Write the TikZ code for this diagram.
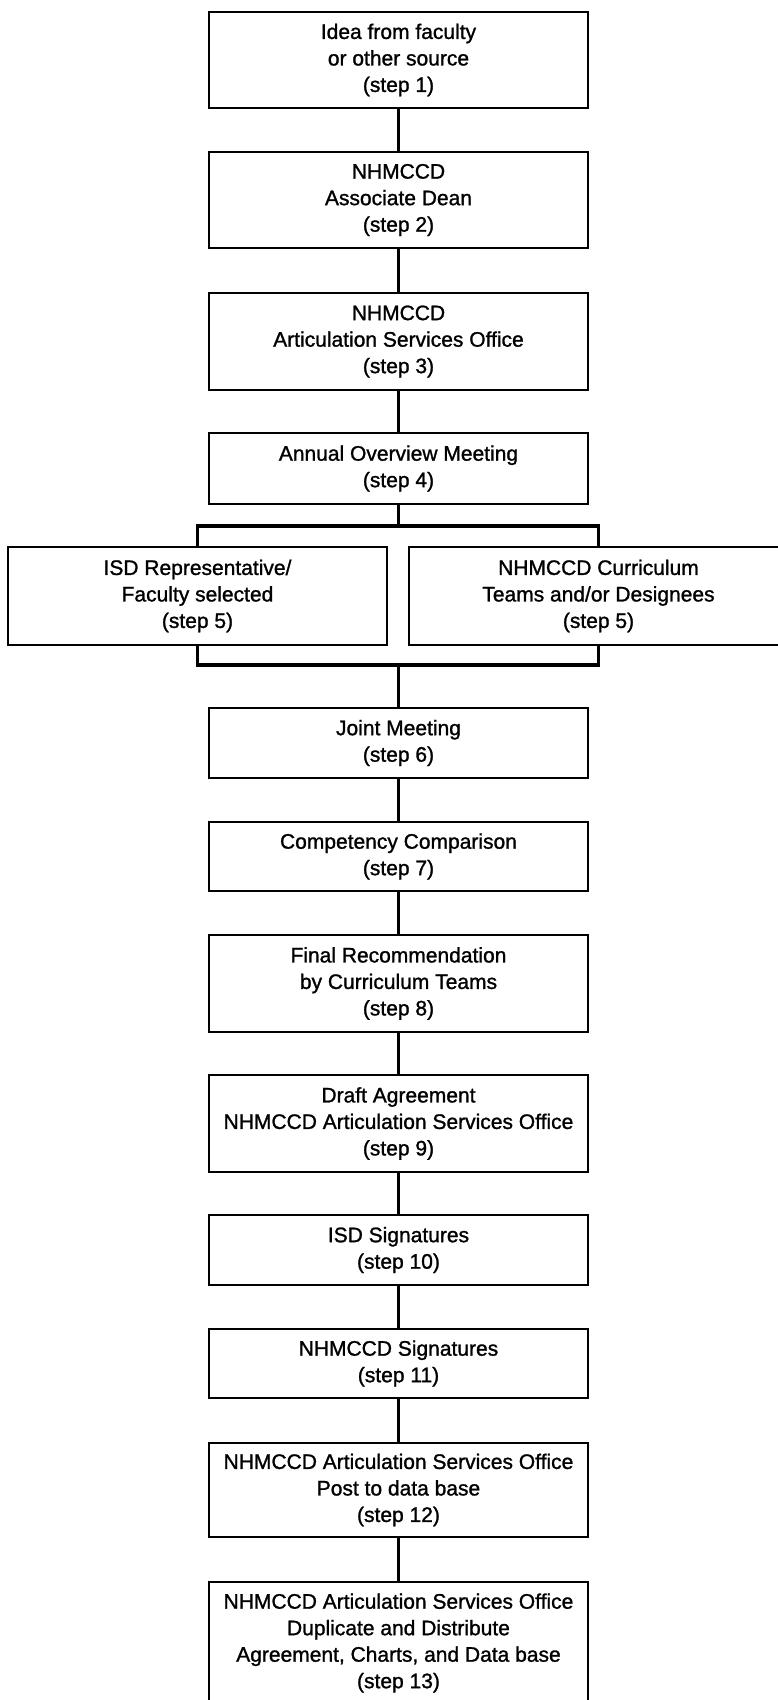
\documentclass[tikz,border=0pt]{standalone}
\usepackage{fontspec}
\setmainfont{Liberation Sans}
\newfontfamily\stepfont[FakeBold=1.2]{Liberation Sans}

\begin{document}
\begin{tikzpicture}[x=1pt, y=-1pt,
    stepbox/.style={rectangle, draw, line width=2.2pt, minimum width=379pt, inner sep=0pt,
      align=center, font=\stepfont\fontsize{21}{26.5}\selectfont},
    link/.style={line width=3.2pt},
    thinlink/.style={line width=2.2pt}]
    \useasboundingbox (0,0) rectangle (777,1700);

    \node[stepbox, minimum height=96pt] (idea) at (398.5,60) {Idea from faculty\\or other source\\(step 1)};
    \node[stepbox, minimum height=96pt] (dean) at (398.5,200) {NHMCCD\\Associate Dean\\(step 2)};
    \node[stepbox, minimum height=97pt] (office) at (398.5,341.5) {NHMCCD\\Articulation Services Office\\(step 3)};
    \node[stepbox, minimum height=71pt] (overview) at (398.5,468.5) {Annual Overview Meeting\\(step 4)};
    \node[stepbox, minimum height=98pt] (isd) at (197.5,596) {ISD Representative/\\Faculty selected\\(step 5)};
    \node[stepbox, minimum height=98pt] (teams) at (598.5,596) {NHMCCD Curriculum\\Teams and/or Designees\\(step 5)};
    \node[stepbox, minimum height=70pt] (joint) at (398.5,743) {Joint Meeting\\(step 6)};
    \node[stepbox, minimum height=69pt] (compare) at (398.5,856.5) {Competency Comparison\\(step 7)};
    \node[stepbox, minimum height=97pt] (recommend) at (398.5,983.5) {Final Recommendation\\by Curriculum Teams\\(step 8)};
    \node[stepbox, minimum height=97pt] (draft) at (398.5,1123.5) {Draft Agreement\\NHMCCD Articulation Services Office\\(step 9)};
    \node[stepbox, minimum height=70pt] (isdsign) at (398.5,1250) {ISD Signatures\\(step 10)};
    \node[stepbox, minimum height=69pt] (nhsign) at (398.5,1363.5) {NHMCCD Signatures\\(step 11)};
    \node[stepbox, minimum height=94pt] (post) at (398.5,1490) {NHMCCD Articulation Services Office\\Post to data base\\(step 12)};
    \node[stepbox, minimum height=122pt] (distribute) at (398.5,1643) {NHMCCD Articulation Services Office\\Duplicate and Distribute\\Agreement, Charts, and Data base\\(step 13)};

    \coordinate (split) at (398.5,526);
    \coordinate (merge) at (398.5,665);

    \draw[link] (idea) -- (dean);
    \draw[link] (dean) -- (office);
    \draw[thinlink] (office) -- (overview);
    \draw[link] (overview) -- (split);
    \draw[link] (isd.north) |- (split) -| (teams.north);
    \draw[link] (isd.south) |- (merge) -| (teams.south);
    \draw[link] (merge) -- (joint);
    \draw[thinlink] (joint) -- (compare);
    \draw[thinlink] (compare) -- (recommend);
    \draw[thinlink] (recommend) -- (draft);
    \draw[link] (draft) -- (isdsign);
    \draw[link] (isdsign) -- (nhsign);
    \draw[link] (nhsign) -- (post);
    \draw[link] (post) -- (distribute);
\end{tikzpicture}
\end{document}
